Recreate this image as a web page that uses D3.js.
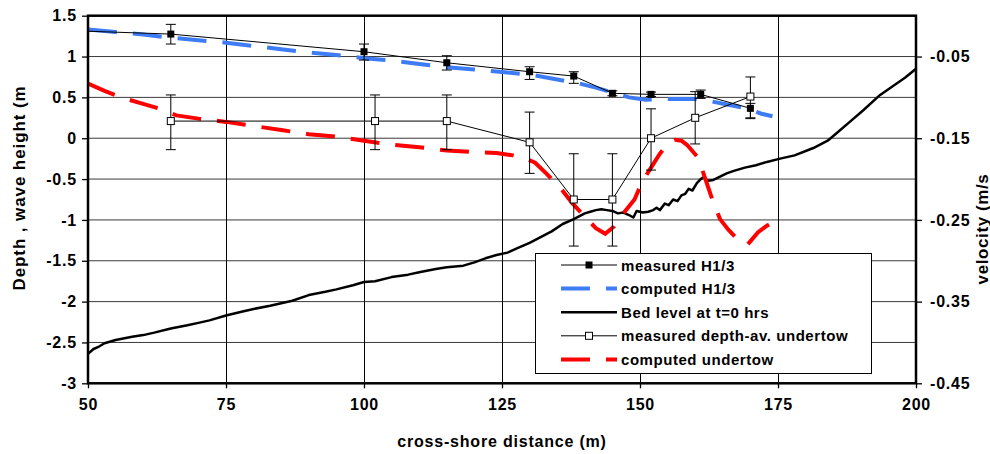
<!DOCTYPE html>
<html><head><meta charset="utf-8">
<script src="https://cdn.jsdelivr.net/npm/d3@7"></script>
<style>
body{margin:0;background:#fff}
svg{display:block}
text{font-family:"Liberation Sans",Arial,sans-serif;font-weight:bold;fill:#000}
</style></head><body>
<svg id="c" width="990" height="454"></svg>
<script>
// ---------- data ----------
const xTicks = [50, 75, 100, 125, 150, 175, 200];
const yLeftTicks = [-3, -2.5, -2, -1.5, -1, -0.5, 0, 0.5, 1, 1.5];
const yRightTicks = [-0.45, -0.35, -0.25, -0.15, -0.05];
const xTitle = "cross-shore distance (m)";
const yLeftTitle = "Depth , wave height (m";
const yRightTitle = "velocity (m/s";
const seriesNames = ["measured H1/3", "computed H1/3", "Bed level at t=0 hrs", "measured depth-av. undertow", "computed undertow"];

// measured H1/3 (m) with error range (first point only starts the line)
const measHx  = [50, 65, 100, 115, 130, 138, 145, 152, 161, 170];
const measH   = [1.31, 1.275, 1.059, 0.924, 0.814, 0.761, 0.55, 0.537, 0.537, 0.366];
const measHHi = [null, 1.394, 1.153, 1.01, 0.875, 0.814, 0.58, 0.565, 0.59, 0.427];
const measHLo = [null, 1.153, 0.957, 0.835, 0.72, 0.672, 0.52, 0.51, 0.488, 0.25];

// computed H1/3 (m)
const compHx = [50, 55, 60, 65, 70, 75, 80, 85, 90, 95, 100, 105, 110, 115, 120, 125, 130, 135, 139, 142, 145, 148, 151, 155, 160, 163, 166, 169, 172, 174];
const compH  = [1.33, 1.30, 1.27, 1.23, 1.20, 1.17, 1.13, 1.09, 1.05, 1.02, 0.98, 0.95, 0.91, 0.87, 0.84, 0.81, 0.78, 0.72, 0.67, 0.62, 0.56, 0.50, 0.47, 0.48, 0.48, 0.45, 0.41, 0.37, 0.30, 0.27];

// bed level at t=0 (m)
const bedX = [50, 51, 52, 53, 55, 58, 60, 62, 65, 68, 70, 72, 75, 78, 80, 83, 85, 87, 90, 93, 95, 98, 100, 102, 105, 108, 110, 113, 115, 118, 120, 122, 124, 126, 128, 130, 132, 134, 136, 138, 140, 141, 142, 143, 144, 145, 146, 147, 148, 148.8, 149.4, 150.5, 151.5, 152.4, 153, 153.6, 154.5, 155.2, 156, 156.8, 157.5, 158.2, 158.8, 159.5, 160.3, 161, 161.5, 162.3, 163.3, 164.5, 165.7, 167, 169, 171, 173, 175.4, 178, 181.4, 184, 185.6, 188, 190.4, 193.5, 196.5, 198, 200];
const bed  = [-2.64, -2.58, -2.55, -2.51, -2.47, -2.43, -2.41, -2.38, -2.33, -2.29, -2.26, -2.23, -2.17, -2.12, -2.09, -2.05, -2.02, -1.99, -1.92, -1.88, -1.85, -1.80, -1.76, -1.75, -1.70, -1.67, -1.64, -1.60, -1.58, -1.56, -1.52, -1.47, -1.43, -1.40, -1.34, -1.28, -1.21, -1.14, -1.05, -0.99, -0.92, -0.90, -0.88, -0.87, -0.88, -0.89, -0.92, -0.91, -0.94, -0.97, -0.89, -0.91, -0.90, -0.88, -0.85, -0.88, -0.80, -0.82, -0.75, -0.77, -0.70, -0.68, -0.62, -0.64, -0.55, -0.50, -0.48, -0.52, -0.51, -0.47, -0.43, -0.40, -0.36, -0.33, -0.29, -0.25, -0.21, -0.12, -0.03, 0.06, 0.20, 0.34, 0.53, 0.67, 0.74, 0.85];

// measured depth-averaged undertow (m/s) with error range
const measUx  = [65, 102, 115, 130, 138, 145, 152, 160, 170];
const measU   = [-0.129, -0.129, -0.129, -0.155, -0.225, -0.225, -0.150, -0.125, -0.099];
const measUHi = [-0.097, -0.097, -0.097, -0.118, -0.169, -0.169, -0.114, -0.093, -0.075];
const measULo = [-0.164, -0.164, -0.164, -0.193, -0.282, -0.282, -0.189, -0.157, -0.126];

// computed undertow (m/s)
const compUx = [50, 53, 56, 60, 63, 66, 70, 75, 80, 85, 90, 95, 100, 105, 110, 115, 120, 124, 127, 129, 131, 133, 135.5, 137.8, 140, 142, 143.7, 145.3, 147, 149, 150.5, 152, 153.6, 155, 156.3, 157.5, 158.5, 160.3, 161.5, 163.2, 164.5, 166, 168, 169.5, 171.4, 173, 175];
const compU  = [-0.083, -0.092, -0.100, -0.108, -0.114, -0.122, -0.126, -0.130, -0.135, -0.140, -0.145, -0.148, -0.153, -0.158, -0.161, -0.165, -0.167, -0.168, -0.171, -0.174, -0.180, -0.193, -0.210, -0.230, -0.246, -0.260, -0.267, -0.258, -0.242, -0.225, -0.202, -0.186, -0.169, -0.157, -0.152, -0.153, -0.158, -0.172, -0.193, -0.227, -0.249, -0.262, -0.276, -0.280, -0.265, -0.257, -0.250];

// ---------- chart ----------
const svg = d3.select("#c");
const L = 88, R = 916, T = 15.7, B = 383.3;
const x = d3.scaleLinear().domain([50, 200]).range([L, R]);
const yL = d3.scaleLinear().domain([-3, 1.5]).range([B, T]);
const yR = d3.scaleLinear().domain([-0.45, 0.0]).range([B, T]);
const fmt = d => { const s = String(+(+d).toFixed(2)); return s; };

// grid
const grid = svg.append("g");
grid.selectAll("line.h").data(yLeftTicks.slice(1, -1)).join("line")
  .attr("x1", L).attr("x2", R).attr("y1", d => yL(d)).attr("y2", d => yL(d))
  .attr("stroke", "#3a3a3a").attr("stroke-width", 1);
grid.selectAll("line.v").data(xTicks.slice(1, -1)).join("line")
  .attr("y1", T).attr("y2", B).attr("x1", d => Math.round(x(d)) + 0.5).attr("x2", d => Math.round(x(d)) + 0.5)
  .attr("stroke", "#000").attr("stroke-width", 1);

// axes
const ax = svg.append("g").attr("transform", `translate(0,${B})`)
  .call(d3.axisBottom(x).tickValues(xTicks).tickSize(5).tickPadding(10).tickFormat(d => String(d)));
const ayl = svg.append("g").attr("transform", `translate(${L},0)`)
  .call(d3.axisLeft(yL).tickValues(yLeftTicks).tickSize(6).tickPadding(5).tickFormat(d => fmt(d)));
const ayr = svg.append("g").attr("transform", `translate(${R},0)`)
  .call(d3.axisRight(yR).tickValues(yRightTicks).tickSize(6).tickPadding(8).tickFormat(d => (+d).toFixed(2)));
[ax, ayl, ayr].forEach(g => {
  g.select(".domain").remove();
  g.selectAll(".tick line").attr("stroke", "#000").attr("stroke-width", 1.3);
  g.selectAll(".tick text").style("font-size", "16px").style("font-family", '"Liberation Sans",Arial,sans-serif')
    .style("font-weight", "bold").style("letter-spacing", "0.8px").attr("fill", "#000");
});
ax.selectAll(".tick text").attr("dy", "0.71em");

// clip
svg.append("clipPath").attr("id", "clip").append("rect")
  .attr("x", L).attr("y", T).attr("width", R - L).attr("height", B - T);
const plot = svg.append("g").attr("clip-path", "url(#clip)");

const lineL = (xs, ys) => d3.line().x((d, i) => x(xs[i])).y((d, i) => yL(ys[i]))(ys);
const lineR = (xs, ys) => d3.line().x((d, i) => x(xs[i])).y((d, i) => yR(ys[i]))(ys);

// computed H1/3
plot.append("path").attr("d", lineL(compHx, compH)).attr("fill", "none")
  .attr("stroke", "#3d7cf5").attr("stroke-width", 4).attr("stroke-dasharray", "29,16");
// bed level
plot.append("path").attr("d", lineL(bedX, bed)).attr("fill", "none")
  .attr("stroke", "#000").attr("stroke-width", 2.5).attr("stroke-linejoin", "round");
// measured H1/3 line
plot.append("path").attr("d", lineL(measHx, measH)).attr("fill", "none")
  .attr("stroke", "#000").attr("stroke-width", 1);
// error bars H
const idxH = measHx.map((d, i) => i).filter(i => measHHi[i] !== null);
const eb = plot.append("g").attr("stroke", "#000").attr("stroke-width", 1);
idxH.forEach(i => {
  const cx = x(measHx[i]);
  eb.append("line").attr("x1", cx).attr("x2", cx).attr("y1", yL(measHHi[i])).attr("y2", yL(measHLo[i]));
  [measHHi[i], measHLo[i]].forEach(v => eb.append("line").attr("x1", cx - 5).attr("x2", cx + 5).attr("y1", yL(v)).attr("y2", yL(v)));
});
plot.selectAll("rect.mh").data(idxH).join("rect")
  .attr("x", i => x(measHx[i]) - 3.5).attr("y", i => yL(measH[i]) - 3.5)
  .attr("width", 7).attr("height", 7).attr("fill", "#000");

// computed undertow
plot.append("path").attr("d", lineR(compUx, compU)).attr("fill", "none")
  .attr("stroke", "#ff0000").attr("stroke-width", 4).attr("stroke-dasharray", "29,16");
// measured undertow
plot.append("path").attr("d", lineR(measUx, measU)).attr("fill", "none")
  .attr("stroke", "#000").attr("stroke-width", 1);
measUx.forEach((xv, i) => {
  const cx = x(xv);
  eb.append("line").attr("x1", cx).attr("x2", cx).attr("y1", yR(measUHi[i])).attr("y2", yR(measULo[i]));
  [measUHi[i], measULo[i]].forEach(v => eb.append("line").attr("x1", cx - 5).attr("x2", cx + 5).attr("y1", yR(v)).attr("y2", yR(v)));
});
plot.selectAll("rect.mu").data(measUx).join("rect")
  .attr("x", d => x(d) - 3.5).attr("y", (d, i) => yR(measU[i]) - 3.5)
  .attr("width", 7).attr("height", 7).attr("fill", "#fff").attr("stroke", "#000").attr("stroke-width", 1);
eb.raise();
plot.selectAll("rect").raise();

// frame
svg.append("rect").attr("x", L).attr("y", T).attr("width", R - L).attr("height", B - T)
  .attr("fill", "none").attr("stroke", "#000").attr("stroke-width", 2.5);

// titles
svg.append("text").attr("x", (L + R) / 2).attr("y", 447).attr("text-anchor", "middle")
  .style("font-size", "16px").style("letter-spacing", "0.8px").text(xTitle);
svg.append("text").attr("transform", "translate(19,188) rotate(-90)").attr("text-anchor", "middle")
  .attr("dominant-baseline", "central").style("font-size", "17px").style("letter-spacing", "0.9px").text(yLeftTitle);
svg.append("text").attr("transform", "translate(982,229) rotate(-90)").attr("text-anchor", "middle")
  .attr("dominant-baseline", "central").style("font-size", "17px").style("letter-spacing", "0.6px").text(yRightTitle);

// legend
const lg = svg.append("g");
lg.append("rect").attr("x", 535.5).attr("y", 253.5).attr("width", 336).attr("height", 120)
  .attr("fill", "#fff").attr("stroke", "#000").attr("stroke-width", 1);
const rowY = i => 265 + i * 23.6;
const x1 = 561, x2 = 617, xm = 589;
// 0 measured H
lg.append("line").attr("x1", x1).attr("x2", x2).attr("y1", rowY(0)).attr("y2", rowY(0)).attr("stroke", "#000").attr("stroke-width", 1);
lg.append("rect").attr("x", xm - 3.5).attr("y", rowY(0) - 3.5).attr("width", 7).attr("height", 7).attr("fill", "#000");
// 1 computed H
lg.append("line").attr("x1", x1).attr("x2", x2).attr("y1", rowY(1)).attr("y2", rowY(1)).attr("stroke", "#3d7cf5").attr("stroke-width", 4).attr("stroke-dasharray", "29,16");
// 2 bed
lg.append("line").attr("x1", x1).attr("x2", x2).attr("y1", rowY(2)).attr("y2", rowY(2)).attr("stroke", "#000").attr("stroke-width", 2.5);
// 3 measured undertow
lg.append("line").attr("x1", x1).attr("x2", x2).attr("y1", rowY(3)).attr("y2", rowY(3)).attr("stroke", "#000").attr("stroke-width", 1);
lg.append("rect").attr("x", xm - 3.5).attr("y", rowY(3) - 3.5).attr("width", 7).attr("height", 7).attr("fill", "#fff").attr("stroke", "#000");
// 4 computed undertow
lg.append("line").attr("x1", x1).attr("x2", x2).attr("y1", rowY(4)).attr("y2", rowY(4)).attr("stroke", "#ff0000").attr("stroke-width", 4).attr("stroke-dasharray", "29,16");
lg.selectAll("text").data(seriesNames).join("text")
  .attr("x", 621).attr("y", (d, i) => rowY(i) + 5.5)
  .style("font-size", "15px").style("letter-spacing", "0.55px").text(d => d);
</script>
</body></html>
